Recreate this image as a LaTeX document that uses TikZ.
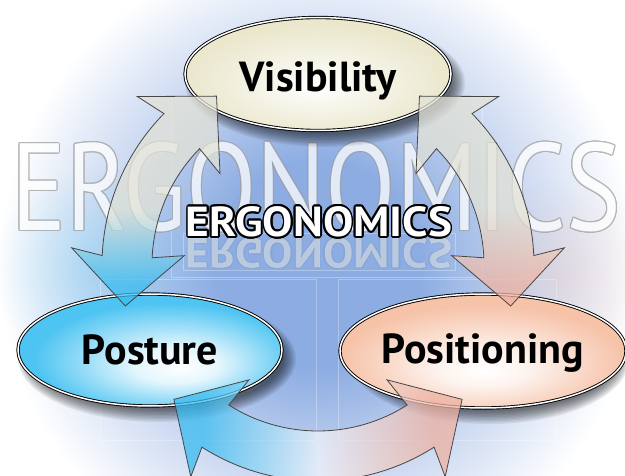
\documentclass[tikz,border=0pt]{standalone}
\usepackage{fontspec}
\setmainfont{PT Sans}
\usetikzlibrary{shapes.geometric,fadings}
\definecolor{glowcore}{RGB}{140,172,226}
\definecolor{glowmid}{RGB}{198,213,240}
\definecolor{viscream}{RGB}{234,231,204}
\definecolor{postblue}{RGB}{78,196,242}
\definecolor{posipeach}{RGB}{246,194,168}
\definecolor{arrowgray}{RGB}{226,226,214}
\definecolor{arrowcyan}{RGB}{58,188,240}
\definecolor{arrowpink}{RGB}{238,178,162}
\definecolor{rim}{RGB}{70,70,70}

\pgfdeclareradialshading{bgglow}{\pgfpoint{0bp}{0bp}}{color(0bp)=(glowcore); color(8bp)=(glowcore); color(16bp)=(glowmid); color(25bp)=(white); color(50bp)=(white)}
\pgfdeclareradialshading{visfill}{\pgfpoint{0bp}{-6bp}}{color(0bp)=(white); color(8bp)=(viscream!35); color(25bp)=(viscream); color(50bp)=(viscream)}
\pgfdeclareradialshading{postfill}{\pgfpoint{6bp}{-8bp}}{color(0bp)=(white); color(8bp)=(postblue!15); color(25bp)=(postblue); color(50bp)=(postblue)}
\pgfdeclareradialshading{posifill}{\pgfpoint{0bp}{-9bp}}{color(0bp)=(white); color(8bp)=(posipeach!20); color(25bp)=(posipeach); color(50bp)=(posipeach)}
\pgfdeclareverticalshading{leftbend}{100bp}{color(0bp)=(arrowcyan); color(30bp)=(arrowcyan); color(40bp)=(arrowcyan!45!arrowgray); color(48bp)=(arrowgray); color(100bp)=(arrowgray)}
\pgfdeclareverticalshading{rightbend}{100bp}{color(0bp)=(arrowpink); color(30bp)=(arrowpink); color(40bp)=(arrowpink!45!arrowgray); color(48bp)=(arrowgray); color(100bp)=(arrowgray)}
\pgfdeclarehorizontalshading{lowbend}{100bp}{color(0bp)=(arrowcyan); color(30bp)=(arrowcyan); color(50bp)=(white!85!glowcore); color(70bp)=(arrowpink); color(100bp)=(arrowpink)}

\tikzfading[name=softspot, inner color=transparent!0, outer color=transparent!100]

% outlined text: a ring of copies, the white one on top
\newcommand{\ringtext}[5]{%
  \foreach \a [count=\k] in {0,22.5,...,337.5}
    \node[#2,text=#3] (#1-r\k) at ([shift={(\a:#4)}]#1) {#5};
  \node[#2,text=white] (#1-t) at (#1) {#5};}

% curved band with a head at each end, angles around the hub
\newcommand{\bendarrow}[3]{%
  \shadedraw[band,shading=#3] (#1:216) arc[start angle=#1,end angle=#2,radius=216]
    -- ({#2-1.5}:247) -- ({#2+14.5}:197) -- ({#2-1.5}:134) -- (#2:166)
    arc[start angle=#2,end angle=#1,radius=166]
    -- ({#1+1.5}:134) -- ({#1-14.5}:197) -- ({#1+1.5}:247) -- cycle;}

\begin{document}
\begin{tikzpicture}[x=1pt,y=1pt,
  topic/.style={ellipse,draw=black,double=white,double distance=1.5pt,line width=0.9pt,
    inner sep=0pt,font=\fontsize{42}{46}\selectfont\bfseries,text depth=0pt},
  band/.style={draw=rim,line width=0.8pt,fill opacity=0.75,line join=miter},
  halo/.style={fill=black,opacity=0.065},
  frameline/.style={draw=white,opacity=0.3,line width=0.6pt},
  headline/.style={font=\fontsize{42}{46}\selectfont\bfseries,text height=29pt,text depth=0pt,inner sep=0pt,xscale=1.08,transform shape},
  bigword/.style={font=\fontsize{124}{130}\selectfont,text height=87pt,text depth=0pt,inner sep=0pt,xscale=0.83,transform shape}]
\useasboundingbox (0,0) rectangle (625,475);
\clip (0,0) rectangle (625,475);
\coordinate (hub) at (318,210);
\coordinate (visc) at (318,401);
\coordinate (postc) at (150,125);
\coordinate (posic) at (483,124);
\coordinate (mid) at (319,253);
\coordinate (echo) at (319,222);
\coordinate (wm) at (316,288);
% glow behind everything
\shade[shading=bgglow] (hub) circle (320);
\fill[arrowcyan,opacity=0.28,path fading=softspot] (100,205) circle (105);
\fill[arrowpink,opacity=0.25,path fading=softspot] (560,200) circle (95);
% faint panel frames
\draw[frameline] (171,198) rectangle (482,378);
\draw[frameline] (183,205) rectangle (455,242);
\draw[frameline] (100,35) rectangle (316,196);
\draw[frameline] (338,35) rectangle (556,196);
% big pale word
\begin{scope}[transparency group,opacity=0.75]
  \ringtext{wm}{bigword}{gray!75}{1}{ERGONOMICS}
\end{scope}
% soft shadows under the ellipses
\foreach \c/\rx/\ry in {visc/134/58,postc/133/57,posic/133/58}
  \foreach \i in {0,...,9}
    \fill[halo] ([shift={(7,-9)}]\c) ellipse [x radius=\rx+6-1.4*\i,y radius=\ry+6-1.4*\i];
\node[topic,shading=visfill,minimum width=266pt,minimum height=113pt,text height=36pt] (vis) at (visc) {Visibility};
\node[topic,shading=postfill,minimum width=264pt,minimum height=112pt,text height=29pt] (post) at (postc) {Posture};
\node[topic,shading=posifill,minimum width=262pt,minimum height=114pt,text height=26pt] (posi) at (posic) {Positioning};
% the three arrows
\begin{scope}[shift={(hub)}]
  \bendarrow{135.5}{177.5}{leftbend}
  \bendarrow{2.5}{44.5}{rightbend}
  \bendarrow{237.5}{302.5}{lowbend}
\end{scope}
% title and its pale mirror image
\ringtext{echo}{headline,yscale=-1,opacity=0.02}{gray}{1.3}{ERGONOMICS}
\node[headline,yscale=-1,text=white,opacity=0.45] (echo-w) at (echo) {ERGONOMICS};
\ringtext{mid}{headline}{black}{1.7}{ERGONOMICS}
\end{tikzpicture}
\end{document}
